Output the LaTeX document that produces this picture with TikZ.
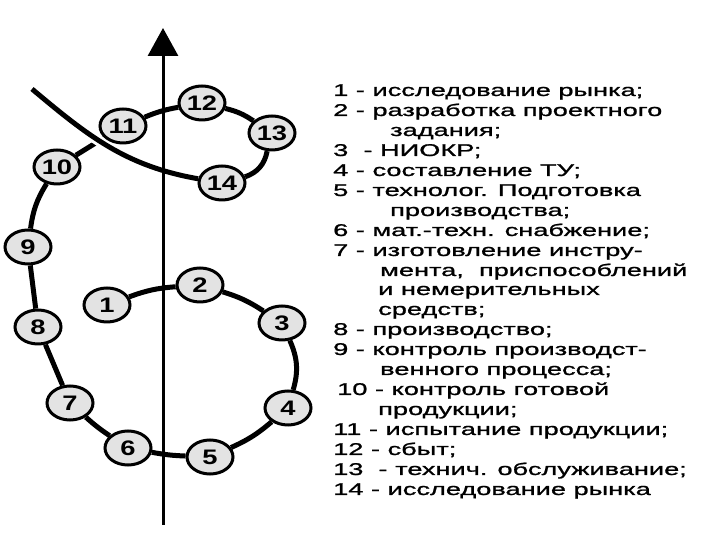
\documentclass[tikz,border=0pt]{standalone}
\usepackage{fontspec}
\setmainfont{Liberation Sans}
\newfontfamily\legendfont[FakeStretch=1.6, FakeBold=1.2]{Liberation Sans}
\newfontfamily\stagefont[FakeStretch=1.3]{Liberation Sans}
\usetikzlibrary{arrows.meta,shapes.geometric,backgrounds}

\begin{document}
\begin{tikzpicture}[x=1pt, y=1pt,
  stage/.style={ellipse, draw, line width=3pt, fill=gray!22, inner sep=0pt,
                minimum width=46pt, minimum height=34pt,
                font=\stagefont\bfseries\fontsize{21}{21}\selectfont},
  link/.style={line width=5pt},
  axis/.style={line width=3pt, -{Triangle[length=28pt, width=30pt]}},
  legend/.style={anchor=base west, inner sep=0pt,
                 font=\legendfont\fontsize{17}{17}\selectfont}]
\useasboundingbox (0,0) rectangle (720,540);

% life-cycle stages
\node[stage] (n1) at (107,235) {1};
\node[stage] (n2) at (200,255) {2};
\node[stage] (n3) at (282,217) {3};
\node[stage] (n4) at (288,132) {4};
\node[stage] (n5) at (210,83) {5};
\node[stage] (n6) at (128,92) {6};
\node[stage] (n7) at (70,137) {7};
\node[stage] (n8) at (38,213) {8};
\node[stage] (n9) at (28,293) {9};
\node[stage] (n10) at (57,373) {10};
\node[stage] (n11) at (123,414) {11};
\node[stage] (n12) at (202,437) {12};
\node[stage] (n13) at (272,407) {13};
\node[stage] (n14) at (222,357) {14};
\coordinate (tailend) at (32,451);
\coordinate (axbot) at (163,15);
\coordinate (axtop) at (163,512);

\begin{pgfonlayer}{background}
\draw[link] (n1) to[bend left=8] (n2);
\draw[link] (n2) to[bend left=8] (n3);
\draw[link] (n3) to[bend left=20] (n4);
\draw[link] (n4) to[bend left=8] (n5);
\draw[link] (n5) to[bend left=4] (n6);
\draw[link] (n6) to[bend left=4] (n7);
\draw[link] (n7) -- (n8);
\draw[link] (n8) -- (n9);
\draw[link] (n9) to[bend left=12] (n10);
\draw[link] (n10) -- (n11);
\draw[link] (n11) to[bend left=6] (n12);
\draw[link] (n12) to[bend left=10] (n13);
\draw[link] (n13) to[bend left=30] (n14);
\draw[link, preaction={draw=white, line width=11pt}]
   (n14) to[out=170, in=-40] (tailend);
\end{pgfonlayer}

% time axis
\draw[axis] (axbot) -- (axtop);

% legend
\node[legend] (l1) at (333,444) {1 - исследование рынка;};
\node[legend] (l2) at (333,424) {2 - разработка проектного};
\node[legend] (l2b) at (390,404) {задания;};
\node[legend] (l3) at (333,384) {3\ \ - НИОКР;};
\node[legend] (l4) at (333,364) {4 - составление ТУ;};
\node[legend] (l5) at (333,344) {5 - технолог. Подготовка};
\node[legend] (l5b) at (390,324) {производства;};
\node[legend] (l6) at (333,304) {6 - мат.-техн. снабжение;};
\node[legend] (l7) at (333,284) {7 - изготовление инстру-};
\node[legend] (l7b) at (380,264) {мента,\ \ приспособлений};
\node[legend] (l7c) at (378,245) {и немерительных};
\node[legend] (l7d) at (378,225) {средств;};
\node[legend] (l8) at (333,205) {8 - производство;};
\node[legend] (l9) at (333,185) {9 - контроль производст-};
\node[legend] (l9b) at (380,165) {венного процесса;};
\node[legend] (l10) at (337,145) {10 - контроль готовой};
\node[legend] (l10b) at (378,125) {продукции;};
\node[legend] (l11) at (333,105) {11 - испытание продукции;};
\node[legend] (l12) at (333,85) {12 - сбыт;};
\node[legend] (l13) at (333,65) {13\ \ - технич. обслуживание;};
\node[legend] (l14) at (333,45) {14 - исследование рынка};
\end{tikzpicture}
\end{document}
